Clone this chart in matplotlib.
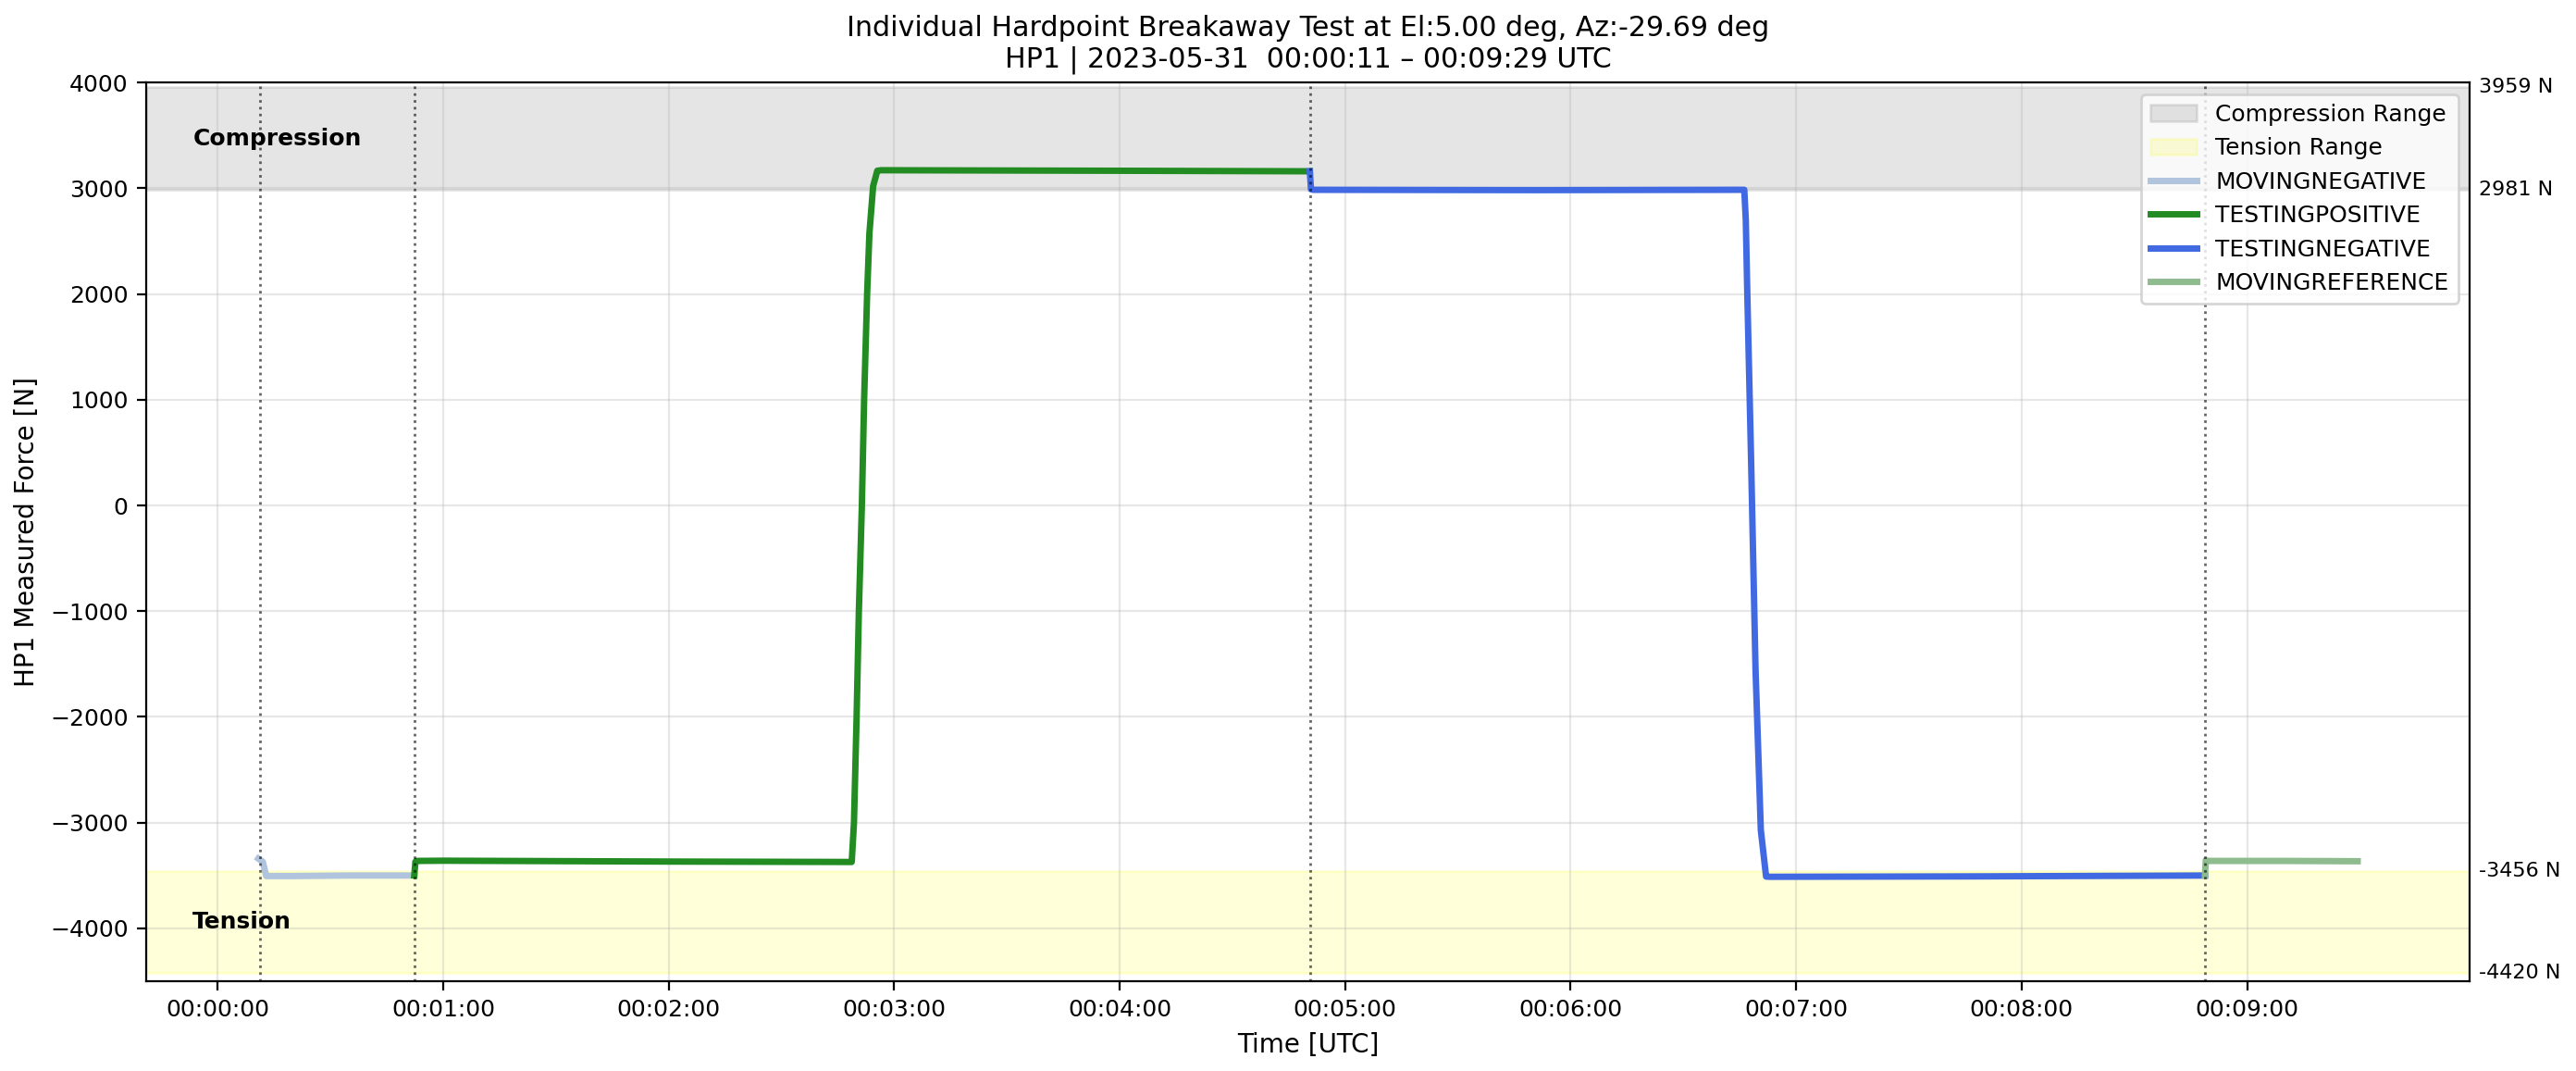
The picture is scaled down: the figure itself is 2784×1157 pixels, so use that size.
import numpy as np
import matplotlib
matplotlib.use("Agg")
import matplotlib.pyplot as plt
import matplotlib.dates as mdates
import matplotlib.transforms as mtransforms

# seconds after 2023-05-31 00:00:00 UTC, force in N
movingNegTime = [10.8, 12.0, 12.9, 20.0, 35.0, 52.3]
movingNegForce = [-3340, -3370, -3505, -3505, -3500, -3500]

testPosTime = [52.3, 52.6, 53.0, 60.0, 120.0, 168.7, 169.3, 170.0, 170.6, 171.4, 172.0, 172.8, 173.4, 174.4, 175.5, 176.5, 240.0, 290.6]
testPosForce = [-3500, -3370, -3362, -3360, -3368, -3372, -3000, -2000, -1000, 0, 1000, 2000, 2570, 3020, 3165, 3170, 3165, 3160]

testNegTime = [290.6, 290.9, 291.5, 350.0, 406.2, 406.6, 407.0, 408.0, 409.2, 410.6, 412.0, 413.0, 470.0, 528.8]
testNegForce = [3160, 2990, 2985, 2982, 2985, 2700, 2010, 450, -1560, -3070, -3510, -3512, -3508, -3500]

movingRefTime = [528.8, 529.0, 529.6, 550.0, 569.4]
movingRefForce = [-3500, -3355, -3362, -3362, -3365]

stateChangeTimes = [11.3, 52.3, 290.6, 528.8]

compressionRange = [2981, 3959]
tensionRange = [-4420, -3456]

baseTime = np.datetime64('2023-05-31T00:00:00')


def toDates(secs):
    return baseTime + (np.array(secs) * 1000).astype('timedelta64[ms]')


plt.rcParams['font.size'] = 9

fig, ax = plt.subplots(figsize=(13.92, 5.785), dpi=200)
fig.subplots_adjust(left=0.0568, right=0.9587, bottom=0.0838, top=0.923)

ax.axhspan(compressionRange[0], compressionRange[1], color='gray', alpha=0.2, label='Compression Range')
ax.axhspan(tensionRange[0], tensionRange[1], color='yellow', alpha=0.15, label='Tension Range')

ax.plot(toDates(movingNegTime), movingNegForce, color='lightsteelblue', lw=2.5, label='MOVINGNEGATIVE')
ax.plot(toDates(testPosTime), testPosForce, color='forestgreen', lw=2.5, label='TESTINGPOSITIVE')
ax.plot(toDates(testNegTime), testNegForce, color='royalblue', lw=2.5, label='TESTINGNEGATIVE')
ax.plot(toDates(movingRefTime), movingRefForce, color='darkseagreen', lw=2.5, label='MOVINGREFERENCE')

for t in toDates(stateChangeTimes):
    ax.axvline(t, color='k', ls=':', lw=1, alpha=0.6)

trans = mtransforms.blended_transform_factory(ax.transAxes, ax.transData)
ax.text(0.02, np.mean(compressionRange), 'Compression', transform=trans, fontsize=9, fontweight='bold', va='center')
ax.text(0.02, np.mean(tensionRange), 'Tension', transform=trans, fontsize=9, fontweight='bold', va='center')

for val in compressionRange + tensionRange:
    ax.text(1.004, val, f'{val} N', transform=trans, fontsize=8, va='center', ha='left')

ax.set_xlim(toDates([-19.0])[0], toDates([599.2])[0])
ax.set_ylim(-4500, 4000)
ax.xaxis.set_major_locator(mdates.MinuteLocator(interval=1))
ax.xaxis.set_major_formatter(mdates.DateFormatter('%H:%M:%S'))
ax.grid(True, alpha=0.3)

ax.set_xlabel('Time [UTC]', fontsize=10)
ax.set_ylabel('HP1 Measured Force [N]', fontsize=10)
ax.set_title('Individual Hardpoint Breakaway Test at El:5.00 deg, Az:-29.69 deg\nHP1 | 2023-05-31  00:00:11 \u2013 00:09:29 UTC', fontsize=10.8)
ax.legend(loc='upper right', fontsize=9)

plt.savefig('out.png', dpi=200)
